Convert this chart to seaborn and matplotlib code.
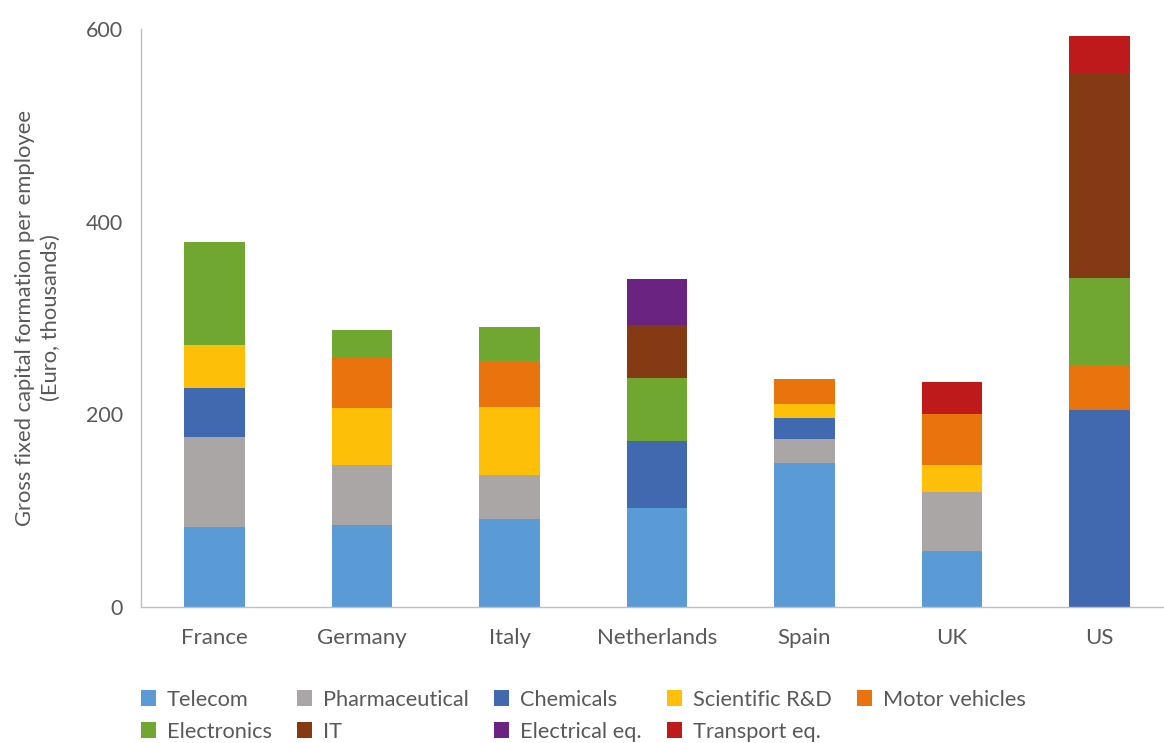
import matplotlib
matplotlib.use("Agg")
import matplotlib.pyplot as plt
import pandas as pd
import seaborn as sns
from matplotlib.patches import Patch

# ********************** data **********************************************#
countries = ["France", "Germany", "Italy", "Netherlands", "Spain", "UK", "US"]
sectors = ["Telecom", "Pharmaceutical", "Chemicals", "Scientific R&D", "Motor vehicles",
           "Electronics", "IT", "Electrical eq.", "Transport eq."]

telecom = [83, 85, 91, 103, 149, 58, 0]
pharma = [93, 62, 46, 0, 25, 61, 0]
chemicals = [51, 0, 0, 69, 22, 0, 205]
sci_rd = [45, 60, 71, 0, 15, 28, 0]
motor = [0, 51, 47, 0, 26, 53, 46]
electronics = [107, 30, 36, 66, 0, 0, 91]
it = [0, 0, 0, 55, 0, 0, 211]
electrical = [0, 0, 0, 48, 0, 0, 0]
transport = [0, 0, 0, 0, 0, 34, 40]

colours = ["#5B9BD5", "#A9A6A5", "#4169AF", "#FDBF07", "#E9730C",
           "#6FA731", "#843A13", "#6A2380", "#BE1A1C"]
# ********************** data end ***************************#

values = [telecom, pharma, chemicals, sci_rd, motor, electronics, it, electrical, transport]
rows = []
for s, vals in zip(sectors, values):
    for c, v in zip(countries, vals):
        rows.append({"country": c, "sector": s, "value": v})
df = pd.DataFrame(rows)
df["country"] = pd.Categorical(df["country"], categories=countries, ordered=True)

sns.set_theme(style="white")
plt.rcParams["font.family"] = ["Lato", "DejaVu Sans"]
text_col = "#595959"

fig = plt.figure(figsize=(11.64, 7.43), dpi=100)
ax = fig.add_axes([141 / 1164, 1 - 607 / 743, (1173 - 141) / 1164, (607 - 29) / 743])

# seaborn stacks the last hue level at the bottom, so hand it the reversed order
palette = dict(zip(sectors, colours))
sns.histplot(data=df, x="country", hue="sector", weights="value", multiple="stack",
             hue_order=sectors[::-1], palette=palette, discrete=True, shrink=0.41,
             linewidth=0, alpha=1, legend=False, ax=ax)

ax.set_ylim(0, 600)
ax.set_xlim(-0.5, 6.5)
ax.set_yticks([0, 200, 400, 600])
ax.set_xlabel("")
ax.set_ylabel("Gross fixed capital formation per employee\n(Euro, thousands)",
              fontsize=15.8, color=text_col, labelpad=18, linespacing=1.35)
ax.tick_params(axis="both", labelsize=16, colors=text_col, length=0)
ax.tick_params(axis="y", labelsize=15.5, pad=13)
ax.tick_params(axis="x", pad=15)
for side in ["top", "right"]:
    ax.spines[side].set_visible(False)
for side in ["left", "bottom"]:
    ax.spines[side].set_color("#BFBFBF")
    ax.spines[side].set_linewidth(1)

# legend filled column-wise, so interleave the two rows
order = [0, 5, 1, 6, 2, 7, 3, 8, 4]
handles = [Patch(facecolor=colours[i], edgecolor="none") for i in order]
labels = [sectors[i] for i in order]
fig.legend(handles, labels, ncol=5, loc="upper left", bbox_to_anchor=(132 / 1164, 1 - 681 / 743),
           frameon=False, fontsize=15.7, labelcolor=text_col, handlelength=0.7, handleheight=0.7,
           handletextpad=0.5, columnspacing=1.15, labelspacing=0.55, borderaxespad=0)

fig.savefig("out.png", dpi=100, facecolor="white")
